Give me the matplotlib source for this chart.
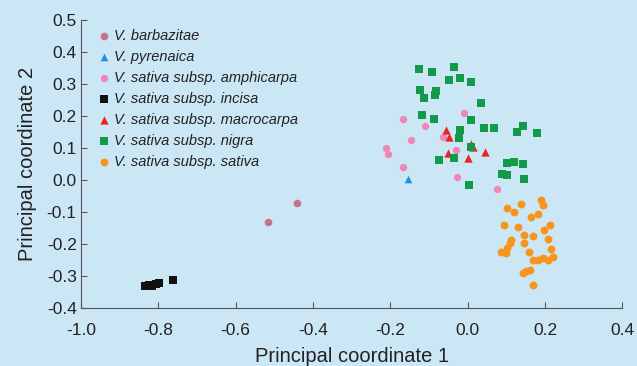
import numpy as np
import matplotlib
matplotlib.use("Agg")
import matplotlib.pyplot as plt

plt.rcParams['font.family'] = ['Liberation Sans', 'DejaVu Sans']

# group names as in the legend
names = ['V. barbazitae', 'V. pyrenaica', 'V. sativa subsp. amphicarpa',
         'V. sativa subsp. incisa', 'V. sativa subsp. macrocarpa',
         'V. sativa subsp. nigra', 'V. sativa subsp. sativa']

barb_x = [-0.515, -0.44]
barb_y = [-0.131, -0.072]

pyr_x = [-0.155]
pyr_y = [0.005]

amph_x = [-0.168, -0.111, -0.010, -0.147, -0.212, -0.207, -0.168, -0.028, -0.065, -0.031, 0.075]
amph_y = [0.191, 0.169, 0.209, 0.125, 0.100, 0.081, 0.041, 0.009, 0.134, 0.094, -0.028]

inc_x = [-0.835, -0.825, -0.815, -0.805, -0.797, -0.762]
inc_y = [-0.330, -0.328, -0.330, -0.325, -0.322, -0.312]

macro_x = [-0.057, -0.049, 0.008, -0.052, 0.0, 0.044, 0.013]
macro_y = [0.156, 0.134, 0.113, 0.084, 0.069, 0.088, 0.103]

nigra_x = [-0.127, -0.091, -0.036, -0.049, -0.021, 0.008, -0.124, -0.083, -0.114, -0.085,
           0.034, -0.119, -0.088, 0.008, -0.021, -0.023, 0.008, -0.075, -0.036, 0.003,
           0.041, 0.067, 0.127, 0.142, 0.179, 0.103, 0.119, 0.142, 0.088, 0.103, 0.145]
nigra_y = [0.347, 0.338, 0.353, 0.313, 0.319, 0.306, 0.281, 0.278, 0.256, 0.266,
           0.241, 0.203, 0.191, 0.188, 0.156, 0.131, 0.103, 0.063, 0.069, -0.016,
           0.163, 0.163, 0.150, 0.169, 0.147, 0.053, 0.056, 0.050, 0.019, 0.016, 0.003]

sat_x = [0.189, 0.194, 0.137, 0.119, 0.101, 0.181, 0.163, 0.093, 0.129, 0.212,
         0.197, 0.145, 0.168, 0.207, 0.111, 0.109, 0.145, 0.103, 0.085, 0.098,
         0.215, 0.158, 0.220, 0.194, 0.168, 0.181, 0.207, 0.150, 0.160, 0.142, 0.168]
sat_y = [-0.063, -0.078, -0.075, -0.100, -0.088, -0.106, -0.116, -0.141, -0.147, -0.141,
         -0.156, -0.172, -0.175, -0.184, -0.188, -0.197, -0.197, -0.213, -0.225, -0.228,
         -0.216, -0.225, -0.241, -0.244, -0.250, -0.250, -0.250, -0.284, -0.281, -0.291, -0.328]

xticks = [-1.0, -0.8, -0.6, -0.4, -0.2, 0.0, 0.2, 0.4]
yticks = [0.5, 0.4, 0.3, 0.2, 0.1, 0.0, -0.1, -0.2, -0.3, -0.4]

bg = '#cbe7f6'
fig = plt.figure(figsize=(6.37, 3.66), dpi=100, facecolor=bg)
ax = fig.add_axes([0.127, 0.158, 0.850, 0.787])
ax.set_facecolor(bg)

groups = [
    (barb_x, barb_y, 'o', '#c9708f', 30),
    (pyr_x, pyr_y, '^', '#1e90dc', 30),
    (amph_x, amph_y, 'o', '#ef86b8', 28),
    (inc_x, inc_y, 's', '#111111', 26),
    (macro_x, macro_y, '^', '#e8262a', 36),
    (nigra_x, nigra_y, 's', '#13994a', 30),
    (sat_x, sat_y, 'o', '#f7941d', 32),
]
for (gx, gy, m, c, s), name in zip(groups, names):
    ax.scatter(gx, gy, marker=m, color=c, s=s, linewidths=0, label=name, zorder=3)

ax.set_xlim(-1.0, 0.4)
ax.set_ylim(-0.4, 0.5)
ax.set_xticks(xticks)
ax.set_yticks(yticks)
ax.xaxis.set_major_formatter(matplotlib.ticker.FormatStrFormatter('%.1f'))
ax.yaxis.set_major_formatter(matplotlib.ticker.FormatStrFormatter('%.1f'))
ax.tick_params(direction='in', length=4, width=0.8, colors='#555555',
               labelcolor='#222222', labelsize=12.5)
ax.tick_params(axis='x', pad=11)
ax.tick_params(axis='y', pad=3)
for side in ['top', 'right']:
    ax.spines[side].set_visible(False)
for side in ['left', 'bottom']:
    ax.spines[side].set_color('#555555')
    ax.spines[side].set_linewidth(0.8)

ax.set_xlabel('Principal coordinate 1', fontsize=14.5, color='#222222', labelpad=6)
ax.set_ylabel('Principal coordinate 2', fontsize=14.5, color='#222222', labelpad=7)

leg = ax.legend(loc='upper left', bbox_to_anchor=(0.01, 1.0), frameon=False,
                fontsize=10.5, handletextpad=0.1, labelspacing=0.48,
                handlelength=1.2, borderaxespad=0.2, labelcolor='#222222',
                markerscale=1.0)
for t in leg.get_texts():
    t.set_fontstyle('italic')

fig.savefig('out.png', dpi=100, facecolor=bg)
